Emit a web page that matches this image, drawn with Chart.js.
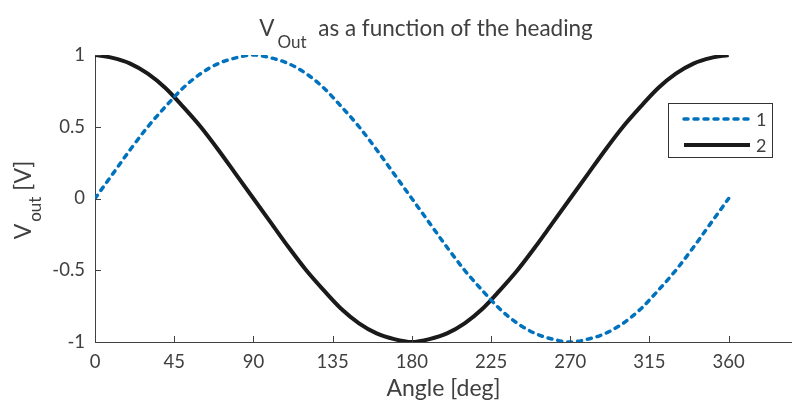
<!DOCTYPE html>
<html lang="en">
<head>
  <meta charset="UTF-8" />
  <title>V Out as a function of the heading</title>
  <script src="https://cdn.jsdelivr.net/npm/chart.js"></script>
  <style>
    html, body { margin: 0; padding: 0; background: #fff; }
    #wrap { width: 792px; height: 406px; position: relative; }
  </style>
</head>
<body>
  <div id="wrap"><canvas id="chart" width="792" height="406"></canvas></div>

  <script>
    // angles in degrees, read every 10 deg
    const angles = [0, 10, 20, 30, 40, 50, 60, 70, 80, 90, 100, 110, 120, 130, 140, 150, 160, 170, 180,
                    190, 200, 210, 220, 230, 240, 250, 260, 270, 280, 290, 300, 310, 320, 330, 340, 350, 360];
    // series 1 (dashed blue)
    const series1 = [0, 0.17, 0.34, 0.5, 0.64, 0.77, 0.87, 0.94, 0.98, 1, 0.98, 0.94, 0.87, 0.77, 0.64, 0.5, 0.34, 0.17, 0,
                     -0.17, -0.34, -0.5, -0.64, -0.77, -0.87, -0.94, -0.98, -1, -0.98, -0.94, -0.87, -0.77, -0.64, -0.5, -0.34, -0.17, 0];
    // series 2 (solid black)
    const series2 = [1, 0.98, 0.94, 0.87, 0.77, 0.64, 0.5, 0.34, 0.17, 0, -0.17, -0.34, -0.5, -0.64, -0.77, -0.87, -0.94, -0.98, -1,
                     -0.98, -0.94, -0.87, -0.77, -0.64, -0.5, -0.34, -0.17, 0, 0.17, 0.34, 0.5, 0.64, 0.77, 0.87, 0.94, 0.98, 1];
    const seriesNames = ["1", "2"];
    const xTicks = [0, 45, 90, 135, 180, 225, 270, 315, 360];
    const yTicks = [-1, -0.5, 0, 0.5, 1];
    const yTickLabels = ["-1", "-0.5", "0", "0.5", "1"];

    const FONT = "Lato, 'Open Sans', sans-serif";
    const TEXT = "#404040";
    const BLUE = "#0072BD";
    const BLACK = "#1a1a1a";

    // title, y label with subscripts, inward tick marks and boxed legend
    const decorations = {
      id: "decorations",
      afterDraw(chart) {
        const ctx = chart.ctx;
        const area = chart.chartArea;
        const xs = chart.scales.x, ys = chart.scales.y;
        ctx.save();

        // inward ticks
        ctx.strokeStyle = TEXT;
        ctx.lineWidth = 1;
        ctx.beginPath();
        xTicks.forEach(v => {
          const px = Math.round(xs.getPixelForValue(v)) + 0.5;
          ctx.moveTo(px, area.bottom);
          ctx.lineTo(px, area.bottom - 6);
        });
        yTicks.forEach(v => {
          const py = Math.round(ys.getPixelForValue(v)) + 0.5;
          ctx.moveTo(area.left, py);
          ctx.lineTo(area.left + 6, py);
        });
        ctx.stroke();

        ctx.fillStyle = TEXT;
        ctx.textBaseline = "alphabetic";
        ctx.textAlign = "left";

        // title
        const big = "22.5px " + FONT, small = "17px " + FONT;
        ctx.font = big;
        const wV = ctx.measureText("V").width;
        const rest = " as a function of the heading";
        const wRest = ctx.measureText(rest).width;
        ctx.font = small;
        const wSub = ctx.measureText("Out").width;
        let tx = 426 - (wV + 3 + wSub + 6 + wRest) / 2;
        ctx.font = big;
        ctx.fillText("V", tx, 36);
        ctx.font = small;
        ctx.fillText("Out", tx + wV + 3, 48);
        ctx.font = big;
        ctx.fillText(rest, tx + wV + 3 + wSub + 6, 36);

        // y label
        ctx.translate(31, 200);
        ctx.rotate(-Math.PI / 2);
        ctx.font = "23px " + FONT;
        const yV = ctx.measureText("V").width;
        const yB = ctx.measureText(" [V]").width;
        ctx.font = "17px " + FONT;
        const yS = ctx.measureText("out").width;
        let rx = -(yV + 2 + yS + yB) / 2;
        ctx.font = "23px " + FONT;
        ctx.fillText("V", rx, 0);
        ctx.font = "17px " + FONT;
        ctx.fillText("out", rx + yV + 2, 10);
        ctx.font = "23px " + FONT;
        ctx.fillText(" [V]", rx + yV + 2 + yS, 0);
        ctx.setTransform(1, 0, 0, 1, 0, 0);

        // legend box
        ctx.fillStyle = "#fff";
        ctx.fillRect(668, 103, 104, 54);
        ctx.strokeStyle = "#333";
        ctx.lineWidth = 1;
        ctx.strokeRect(668.5, 103.5, 104, 54);
        const rows = [
          { y: 119, color: BLUE, dash: [4, 6], w: 3.5, cap: "round" },
          { y: 145, color: BLACK, dash: [], w: 4, cap: "butt" }
        ];
        rows.forEach((r, i) => {
          ctx.beginPath();
          ctx.strokeStyle = r.color;
          ctx.lineWidth = r.w;
          ctx.lineCap = r.cap;
          ctx.setLineDash(r.dash);
          ctx.moveTo(684, r.y);
          ctx.lineTo(750, r.y);
          ctx.stroke();
          ctx.setLineDash([]);
          ctx.fillStyle = TEXT;
          ctx.font = "18px " + FONT;
          ctx.textBaseline = "middle";
          ctx.fillText(seriesNames[i], 756, r.y + 1);
        });
        ctx.restore();
      }
    };

    const toPoints = vals => angles.map((a, i) => ({ x: a, y: vals[i] }));

    new Chart(document.getElementById("chart"), {
      type: "line",
      data: {
        datasets: [
          {
            label: seriesNames[0],
            data: toPoints(series1),
            borderColor: BLUE,
            borderWidth: 3.5,
            borderDash: [4, 6],
            borderCapStyle: "round",
            pointRadius: 0,
            tension: 0.4,
            cubicInterpolationMode: "monotone"
          },
          {
            label: seriesNames[1],
            data: toPoints(series2),
            borderColor: BLACK,
            borderWidth: 4,
            pointRadius: 0,
            tension: 0.4,
            cubicInterpolationMode: "monotone"
          }
        ]
      },
      options: {
        responsive: false,
        animation: false,
        devicePixelRatio: 1,
        layout: { padding: { top: 55, right: 0, left: 0, bottom: 0 } },
        plugins: {
          legend: { display: false },
          title: { display: false },
          tooltip: { enabled: false }
        },
        scales: {
          x: {
            type: "linear",
            min: 0,
            max: 396,
            afterBuildTicks: s => { s.ticks = xTicks.map(v => ({ value: v })); },
            afterFit: s => { s.height = 64; },
            grid: { display: false, drawTicks: false },
            border: { display: true, color: TEXT, width: 1 },
            ticks: { color: TEXT, font: { family: FONT, size: 18.5 }, padding: 9, maxRotation: 0 },
            title: { display: true, text: "Angle [deg]", color: TEXT, font: { family: FONT, size: 23 }, padding: { top: 0 } }
          },
          y: {
            min: -1,
            max: 1,
            afterBuildTicks: s => { s.ticks = yTicks.map(v => ({ value: v })); },
            afterFit: s => { s.width = 95; },
            grid: { display: false, drawTicks: false },
            border: { display: true, color: TEXT, width: 1 },
            ticks: {
              color: TEXT,
              font: { family: FONT, size: 18.5 },
              padding: 10,
              callback: v => yTickLabels[yTicks.indexOf(v)]
            }
          }
        }
      },
      plugins: [decorations]
    });
  </script>
</body>
</html>
